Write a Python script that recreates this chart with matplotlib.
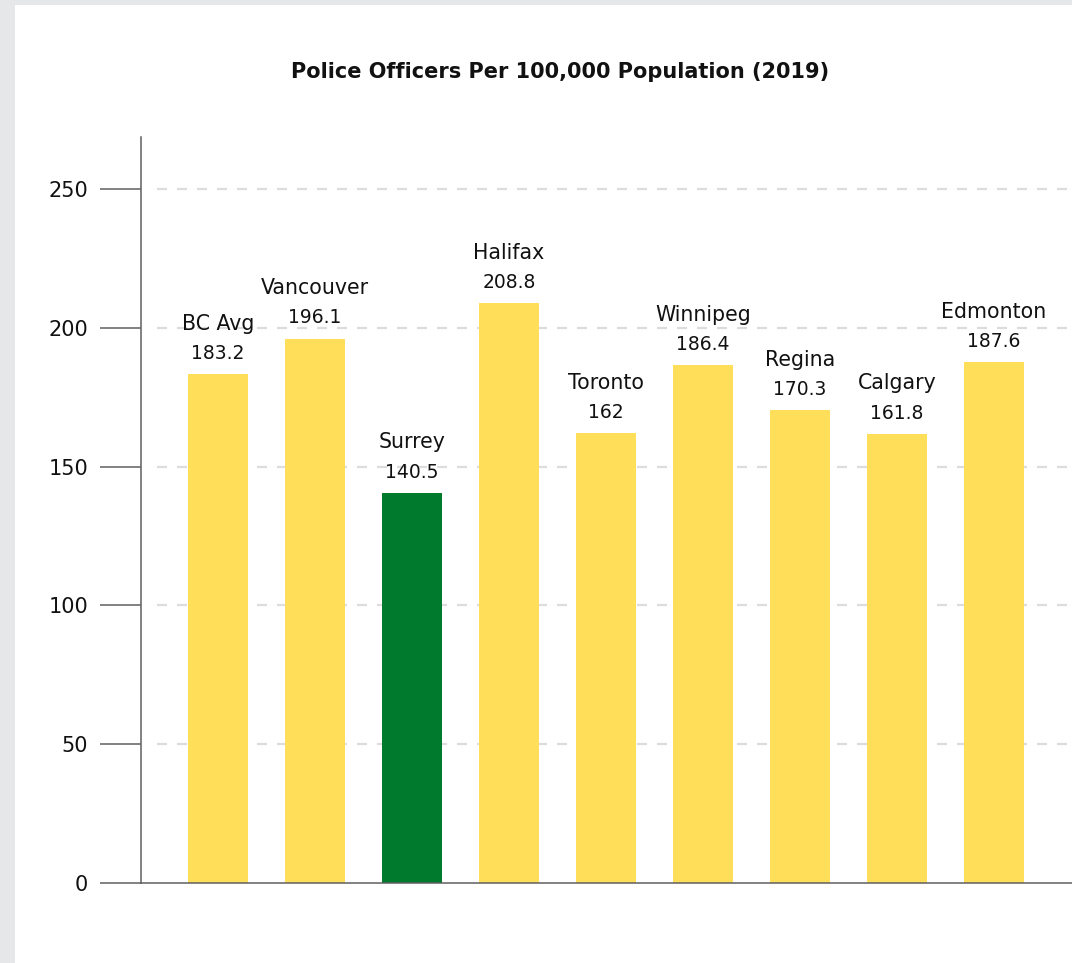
import matplotlib
matplotlib.use("Agg")
import matplotlib.pyplot as plt
from matplotlib.patches import Rectangle

# data
cities = ["BC Avg", "Vancouver", "Surrey", "Halifax", "Toronto",
          "Winnipeg", "Regina", "Calgary", "Edmonton"]
officers = [183.2, 196.1, 140.5, 208.8, 162, 186.4, 170.3, 161.8, 187.6]
value_labels = ["183.2", "196.1", "140.5", "208.8", "162",
                "186.4", "170.3", "161.8", "187.6"]
highlight = "Surrey"
yticks = [0, 50, 100, 150, 200, 250]

yellow = "#FFDE59"
green = "#007A2C"
axis_gray = "#5f5f5f"

plt.rcParams['font.family'] = ['DejaVu Sans']
plt.rcParams['lines.scale_dashes'] = False

fig = plt.figure(figsize=(10.72, 9.63), dpi=100)
fig.patch.set_facecolor("#E6E7E9")
# white card behind everything
fig.patches.append(Rectangle((15/1072, 0), 1 - 15/1072, 1 - 5/963,
                             transform=fig.transFigure, facecolor="white",
                             edgecolor="none", zorder=-5))

ax = fig.add_axes([141/1072, 80/963, 1 - 141/1072, 746/963])
ax.set_facecolor("none")

x = list(range(len(cities)))
colors = [green if c == highlight else yellow for c in cities]
ax.bar(x, officers, width=0.62, color=colors, zorder=3)

# dashed grid lines (start a bit right of the axis)
for t in yticks[1:]:
    ax.axhline(t, xmin=16/931, xmax=1, color="#DCDCDC", lw=1.6,
               linestyle=(0, (7.2, 7.2)), zorder=1)

for xi, v, name, lab in zip(x, officers, cities, value_labels):
    ax.annotate(lab, (xi, v), xytext=(0, 11), textcoords="offset points",
                ha="center", va="baseline", fontsize=13.5, color="#111111")
    ax.annotate(name, (xi, v), xytext=(0, 32), textcoords="offset points",
                ha="center", va="baseline", fontsize=14.8, color="#111111")

ax.set_xlim(-0.794, 8.804)
ax.set_ylim(0, 268.7)
ax.set_yticks(yticks)
ax.set_xticks([])
ax.tick_params(axis="y", length=29.5, width=1.1, color=axis_gray, pad=8.6,
               labelsize=15, labelcolor="#111111")
for s in ["top", "right"]:
    ax.spines[s].set_visible(False)
for s in ["left", "bottom"]:
    ax.spines[s].set_color(axis_gray)
    ax.spines[s].set_linewidth(1.1)
    ax.spines[s].set_zorder(4)

fig.text(560/1072, 1 - 72/963, "Police Officers Per 100,000 Population (2019)",
         ha="center", va="center", fontsize=15, fontweight="bold",
         color="#111111")

fig.savefig("out.png", dpi=100, facecolor=fig.get_facecolor())
